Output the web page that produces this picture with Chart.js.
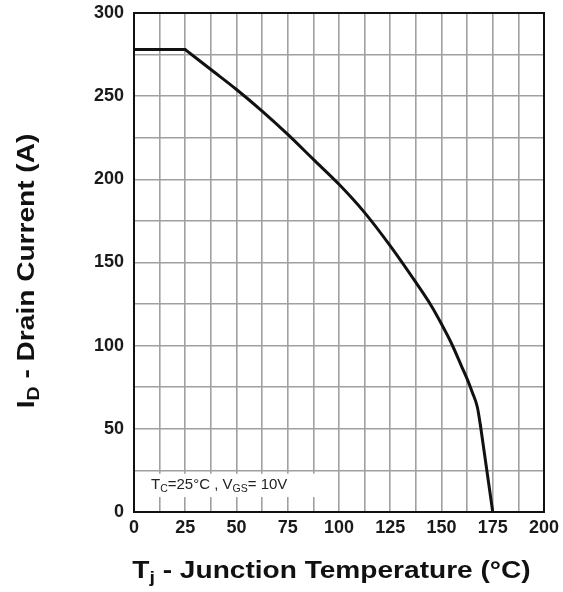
<!DOCTYPE html>
<html>
<head>
<meta charset="utf-8">
<script src="https://cdn.jsdelivr.net/npm/chart.js@4.4.1/dist/chart.umd.min.js"></script>
<style>
html,body{margin:0;padding:0;background:#fff;}
#wrap{position:relative;width:563px;height:592px;}
</style>
</head>
<body>
<div id="wrap"><canvas id="c" width="563" height="592"></canvas></div>
<script>
// Data (the curve has sharp corners at 25 °C and 169 °C)
const flatTemp = [0, 25];
const flatCurrent = [278, 278];
const curveTemp = [25, 37.5, 50, 62.5, 75, 87.5, 100, 112.5, 125, 137.5, 145, 150, 155, 160, 162.5, 165, 167.5, 169];
const curveCurrent = [278, 266, 254, 241, 227, 212, 197, 180, 160, 138, 124, 113, 101, 87, 80, 72, 63, 52];
const dropTemp = [169, 175];
const dropCurrent = [52, 0];
const xTickLabels = [0, 25, 50, 75, 100, 125, 150, 175, 200];
const yTickLabels = [0, 50, 100, 150, 200, 250, 300];
const yTitleParts = [["I", false], ["D", true], [" - Drain Current (A)", false]];
const xTitleParts = [["T", false], ["j", true], [" - Junction Temperature (°C)", false]];
const noteParts = [["T", false], ["C", true], ["=25°C , V", false], ["GS", true], ["= 10V", false]];

const FONT = '"Liberation Sans", Arial, sans-serif';

function richWidth(ctx, parts, size, weight) {
  let w = 0;
  for (const [t, sub] of parts) {
    ctx.font = weight + ' ' + (sub ? size * 0.7 : size) + 'px ' + FONT;
    w += ctx.measureText(t).width;
  }
  return w;
}
function drawRich(ctx, parts, x, y, size, weight) {
  let cx = x;
  for (const [t, sub] of parts) {
    const s = sub ? size * 0.7 : size;
    ctx.font = weight + ' ' + s + 'px ' + FONT;
    ctx.fillText(t, cx, sub ? y + size * 0.22 : y);
    cx += ctx.measureText(t).width;
  }
}

const framePlugin = {
  id: 'frame',
  afterDatasetsDraw(chart) {
    const {ctx, chartArea: a, scales} = chart;
    ctx.save();
    // note box
    const bx0 = a.left + 1.5;
    const bx1 = scales.x.getPixelForValue(90);
    const by0 = scales.y.getPixelForValue(23);
    const by1 = scales.y.getPixelForValue(9);
    ctx.fillStyle = '#fff';
    ctx.fillRect(bx0, by0, bx1 - bx0, by1 - by0);
    ctx.fillStyle = '#222';
    ctx.textBaseline = 'alphabetic';
    ctx.textAlign = 'left';
    drawRich(ctx, noteParts, 151, 489, 15, 'normal');
    // frame
    ctx.strokeStyle = '#111';
    ctx.lineWidth = 2;
    ctx.strokeRect(a.left, a.top, a.right - a.left, a.bottom - a.top);
    // titles (slightly widened, as in the reference)
    ctx.fillStyle = '#111';
    ctx.textBaseline = 'alphabetic';
    const stretch = 1.17;
    const ts = 24;
    ctx.save();
    ctx.translate(331.5, 578);
    ctx.scale(stretch, 1);
    const xw = richWidth(ctx, xTitleParts, ts, 'bold');
    drawRich(ctx, xTitleParts, -xw / 2, 0, ts, 'bold');
    ctx.restore();
    ctx.save();
    ctx.translate(34, 271);
    ctx.rotate(-Math.PI / 2);
    ctx.scale(stretch, 1);
    const yw = richWidth(ctx, yTitleParts, ts, 'bold');
    drawRich(ctx, yTitleParts, -yw / 2, 0, ts, 'bold');
    ctx.restore();
    ctx.restore();
  }
};

function toPts(xs, ys) { return xs.map((t, i) => ({x: t, y: ys[i]})); }
const lineStyle = {borderColor: '#111', borderWidth: 3, pointRadius: 0, fill: false, borderCapStyle: 'round', borderJoinStyle: 'round'};

new Chart(document.getElementById('c'), {
  type: 'line',
  data: {
    datasets: [
      Object.assign({data: toPts(flatTemp, flatCurrent), tension: 0}, lineStyle),
      Object.assign({data: toPts(curveTemp, curveCurrent), cubicInterpolationMode: 'monotone'}, lineStyle),
      Object.assign({data: toPts(dropTemp, dropCurrent), tension: 0}, lineStyle)
    ]
  },
  options: {
    responsive: false,
    animation: false,
    layout: {padding: {left: 0, right: 19, top: 13, bottom: 0}},
    plugins: {legend: {display: false}, tooltip: {enabled: false}},
    scales: {
      x: {
        type: 'linear',
        min: 0, max: 200,
        afterFit(s) { s.height = 80; s.paddingLeft = 0; s.paddingRight = 0; },
        afterBuildTicks(s) {
          const t = [];
          for (let v = 0; v <= 200; v += 12.5) t.push({value: v});
          s.ticks = t;
        },
        ticks: {
          padding: 5,
          maxRotation: 0,
          autoSkip: false,
          color: '#1a1a1a',
          font: {family: FONT, size: 18, weight: 'bold'},
          callback: v => xTickLabels.includes(v) ? String(v) : ''
        },
        grid: {color: '#a0a0a0', lineWidth: 1.6, drawTicks: false},
        border: {display: false}
      },
      y: {
        min: 0, max: 300,
        afterFit(s) { s.width = 134; s.paddingTop = 0; s.paddingBottom = 0; },
        afterBuildTicks(s) {
          const t = [];
          for (let v = 0; v <= 300; v += 25) t.push({value: v});
          s.ticks = t;
        },
        ticks: {
          padding: 10,
          autoSkip: false,
          color: '#1a1a1a',
          font: {family: FONT, size: 18, weight: 'bold'},
          callback: v => yTickLabels.includes(v) ? String(v) : ''
        },
        grid: {color: '#a0a0a0', lineWidth: 1.6, drawTicks: false},
        border: {display: false}
      }
    }
  },
  plugins: [framePlugin]
});
</script>
</body>
</html>
